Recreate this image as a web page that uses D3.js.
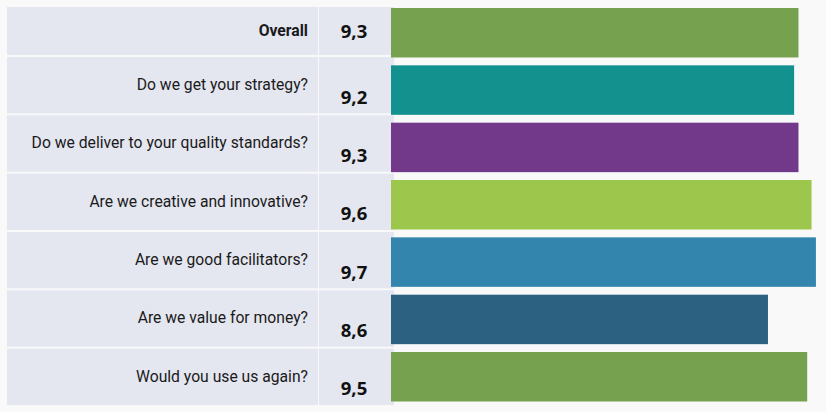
<html>

<head>
  <meta charset="UTF-8">
  <script src="https://d3js.org/d3.v7.min.js"></script>
</head>
<style>
  body {
    margin: 0;
    background: #f9f9f9;
  }
</style>

<body>
  <svg id="chart" width="826" height="412"></svg>

  <script>
    // survey questions and their average scores
    const questions = [
      "Overall",
      "Do we get your strategy?",
      "Do we deliver to your quality standards?",
      "Are we creative and innovative?",
      "Are we good facilitators?",
      "Are we value for money?",
      "Would you use us again?"
    ];
    const scores = [9.3, 9.2, 9.3, 9.6, 9.7, 8.6, 9.5];
    const barColors = ["#76a14f", "#13918f", "#72398a", "#9dc64c", "#3385ad", "#2c6182", "#76a14f"];

    const svg = d3.select("svg#chart");

    // decimal comma formatting
    const locale = d3.formatLocale({ decimal: ",", thousands: ".", grouping: [3], currency: ["", ""] });
    const fmt = locale.format(".1f");

    // table layout: first row is shorter than the rest
    const tableLeft = 7, tableRight = 394, divider = 318.5;
    const tableTop = 7, tableBottom = 405, firstRowH = 48, gap = 2;
    const rowH = (tableBottom - (tableTop + firstRowH + gap) - gap * (questions.length - 2)) / (questions.length - 1);
    const rowTop = i => i == 0 ? tableTop : tableTop + firstRowH + gap + (i - 1) * (rowH + gap);
    const rowHeight = i => i == 0 ? firstRowH : rowH;

    // scales for the bars
    const yScale = d3.scaleBand().domain(questions).range([8, 401.5]).paddingInner(0.137).paddingOuter(0);
    const xScale = d3.scaleLinear().domain([0, 10]).range([393, 829]);

    let table = svg.append("g").attr("id", "table");

    // label cells
    table.selectAll("rect.label").data(questions)
      .join("rect").attr("class", "label")
      .attr("x", tableLeft)
      .attr("y", (d, i) => rowTop(i))
      .attr("width", divider - 0.5 - tableLeft)
      .attr("height", (d, i) => rowHeight(i))
      .attr("fill", "#e4e6f0");

    // value cells
    table.selectAll("rect.value").data(questions)
      .join("rect").attr("class", "value")
      .attr("x", divider + 0.5)
      .attr("y", (d, i) => rowTop(i))
      .attr("width", tableRight - divider - 0.5)
      .attr("height", (d, i) => rowHeight(i))
      .attr("fill", "#e4e6f0");

    // question labels
    table.selectAll("text.label").data(questions)
      .join("text").attr("class", "label")
      .attr("x", 308)
      .attr("y", (d, i) => rowTop(i) + (i == 0 ? 29 : 33))
      .attr("text-anchor", "end")
      .attr("font-family", "Roboto")
      .attr("font-size", "15.7px")
      .attr("font-weight", (d, i) => i == 0 ? 700 : 400)
      .attr("fill", "#1a1a1a")
      .text(d => d);

    // score numbers
    table.selectAll("text.value").data(scores)
      .join("text").attr("class", "value")
      .attr("x", 354)
      .attr("y", (d, i) => rowTop(i) + (i == 0 ? 31 : 46.5))
      .attr("text-anchor", "middle")
      .attr("font-family", "Open Sans")
      .attr("font-size", "18.5px")
      .attr("font-weight", 700)
      .attr("fill", "#111")
      .text(d => fmt(d));

    // bars
    svg.append("g").attr("id", "bars")
      .selectAll("rect").data(scores)
      .join("rect")
      .attr("x", xScale(0) - 2)
      .attr("y", (d, i) => yScale(questions[i]))
      .attr("width", d => xScale(d) - xScale(0) + 2)
      .attr("height", yScale.bandwidth())
      .attr("fill", (d, i) => barColors[i]);

  </script>
</body>

</html>
